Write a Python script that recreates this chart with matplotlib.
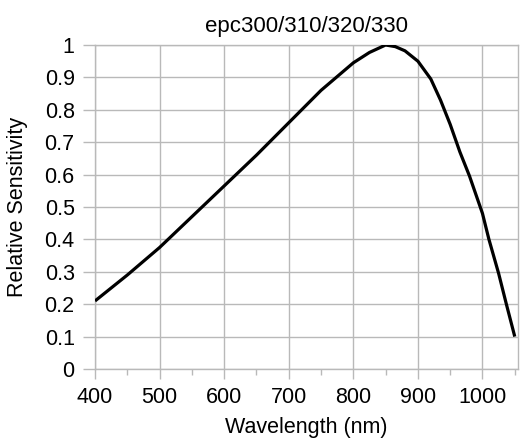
import matplotlib

matplotlib.use("Agg")
import matplotlib.pyplot as plt
from matplotlib.ticker import MultipleLocator

# values
wavelength = [400, 450, 500, 550, 600, 650, 700, 750, 800, 825, 850, 865,
              880, 900, 920, 935, 950, 965, 980, 1000, 1010, 1025, 1037, 1050]
sensitivity = [0.21, 0.29, 0.375, 0.47, 0.565, 0.66, 0.76, 0.86, 0.945, 0.977,
               1.0, 0.995, 0.982, 0.95, 0.895, 0.83, 0.755, 0.67, 0.595, 0.48,
               0.40, 0.295, 0.20, 0.10]
x_ticks = [400, 500, 600, 700, 800, 900, 1000]
y_ticks = [0, 0.1, 0.2, 0.3, 0.4, 0.5, 0.6, 0.7, 0.8, 0.9, 1]

GRID = "#b9b9b9"

plt.rcParams["font.family"] = ["Liberation Sans", "DejaVu Sans"]

fig = plt.figure(figsize=(5.23, 4.48), dpi=100)
ax = fig.add_axes([95 / 523, 1 - 369 / 448, 423 / 523, 324 / 448])

ax.plot(wavelength, sensitivity, color="black", lw=2.3,
        solid_joinstyle="round", solid_capstyle="butt", zorder=3)

ax.set_xlim(400, 1055)
ax.set_ylim(0, 1)
ax.set_xticks(x_ticks)
ax.set_yticks(y_ticks)
ax.set_yticklabels([f"{v:g}" for v in y_ticks])
ax.xaxis.set_minor_locator(MultipleLocator(50))
ax.grid(True, which="major", color=GRID, lw=1.0)
ax.set_axisbelow(True)

for s in ax.spines.values():
    s.set_color(GRID)
    s.set_linewidth(1.0)

ax.tick_params(axis="x", which="major", length=7.2, width=1.0, color=GRID,
               labelsize=15.5, pad=6)
ax.tick_params(axis="x", which="minor", length=4.5, width=1.0, color=GRID)
ax.tick_params(axis="y", which="major", length=8.6, width=1.0, color=GRID,
               labelsize=15.5, pad=6)

ax.set_title("epc300/310/320/330", fontsize=16, pad=9.5)
ax.set_xlabel("Wavelength (nm)", fontsize=15.5, labelpad=6)
ax.set_ylabel("Relative Sensitivity", fontsize=15.5)
ax.yaxis.set_label_coords(-0.158, 0.5)

fig.savefig("out.png", dpi=100)
